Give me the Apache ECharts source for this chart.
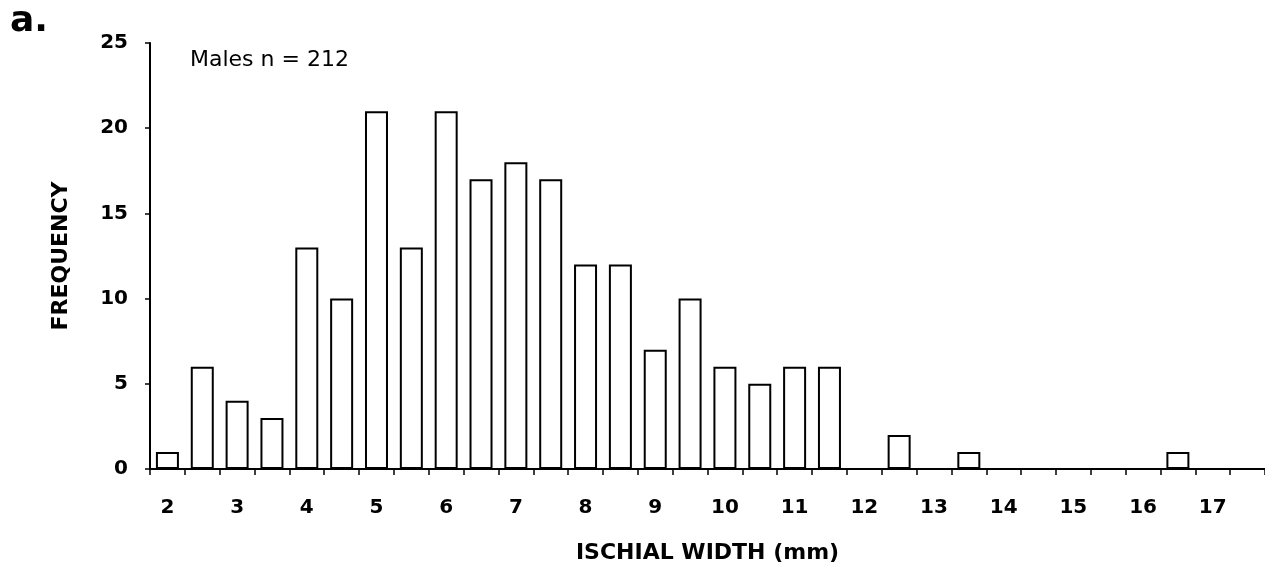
<!DOCTYPE html>
<html>
<head>
<meta charset="utf-8">
<script src="https://cdn.jsdelivr.net/npm/echarts@6/dist/echarts.min.js"></script>
<style>
  html, body { margin: 0; padding: 0; background: #fff; }
  #chart { width: 1265px; height: 570px; }
</style>
</head>
<body>
<div id="chart"></div>
<script>
// Ischial width bins (mm), one bar per half-millimetre class
const widthBins = ['2', '2.5', '3', '3.5', '4', '4.5', '5', '5.5', '6', '6.5',
  '7', '7.5', '8', '8.5', '9', '9.5', '10', '10.5', '11', '11.5',
  '12', '12.5', '13', '13.5', '14', '14.5', '15', '15.5', '16', '16.5', '17', '17.5'];

// Number of males in each bin (total 212)
const maleCounts = [1, 6, 4, 3, 13, 10, 21, 13, 21, 17,
  18, 17, 12, 12, 7, 10, 6, 5, 6, 6,
  0, 2, 0, 1, 0, 0, 0, 0, 0, 1, 0, 0];

const yTicks = { min: 0, max: 25, step: 5 };

const FONT = 'DejaVu Sans';

const chart = echarts.init(document.getElementById('chart'), null, { renderer: 'canvas' });

chart.setOption({
  backgroundColor: '#ffffff',
  animation: false,
  grid: { left: 150, right: 0, top: 43, bottom: 101, containLabel: false },
  xAxis: {
    type: 'category',
    data: widthBins,
    boundaryGap: true,
    name: 'ISCHIAL WIDTH (mm)',
    nameLocation: 'middle',
    nameGap: 73,
    nameTextStyle: { fontFamily: FONT, fontWeight: 'bold', fontSize: 22, color: '#000' },
    axisLine: { show: true, lineStyle: { color: '#000', width: 2 } },
    axisTick: { show: true, interval: 0, alignWithLabel: false, length: 6, lineStyle: { color: '#000', width: 1.5 } },
    axisLabel: {
      interval: 1,
      margin: 29,
      fontFamily: FONT, fontWeight: 'bold', fontSize: 20, color: '#000'
    },
    splitLine: { show: false }
  },
  yAxis: {
    type: 'value',
    min: yTicks.min,
    max: yTicks.max,
    interval: yTicks.step,
    name: 'FREQUENCY',
    nameLocation: 'middle',
    nameGap: 78,
    nameRotate: 90,
    nameTextStyle: { fontFamily: FONT, fontWeight: 'bold', fontSize: 22, color: '#000' },
    axisLine: { show: true, lineStyle: { color: '#000', width: 2 } },
    axisTick: { show: true, length: 5, lineStyle: { color: '#000', width: 1.5 } },
    axisLabel: { margin: 22, fontFamily: FONT, fontWeight: 'bold', fontSize: 20, color: '#000' },
    splitLine: { show: false }
  },
  series: [{
    type: 'bar',
    data: maleCounts,
    barWidth: 23,
    itemStyle: { color: '#ffffff', borderColor: '#000', borderWidth: 2 },
    emphasis: { disabled: true }
  }],
  graphic: [
    {
      type: 'text', left: 10, top: 4,
      style: { text: 'a.', fontFamily: FONT, fontWeight: 'bold', fontSize: 36, fill: '#000' }
    },
    {
      type: 'text', x: 190, y: 60,
      style: { text: 'Males n = 212', fontFamily: FONT, fontSize: 22, fill: '#000', verticalAlign: 'middle' }
    }
  ]
});
</script>
</body>
</html>
